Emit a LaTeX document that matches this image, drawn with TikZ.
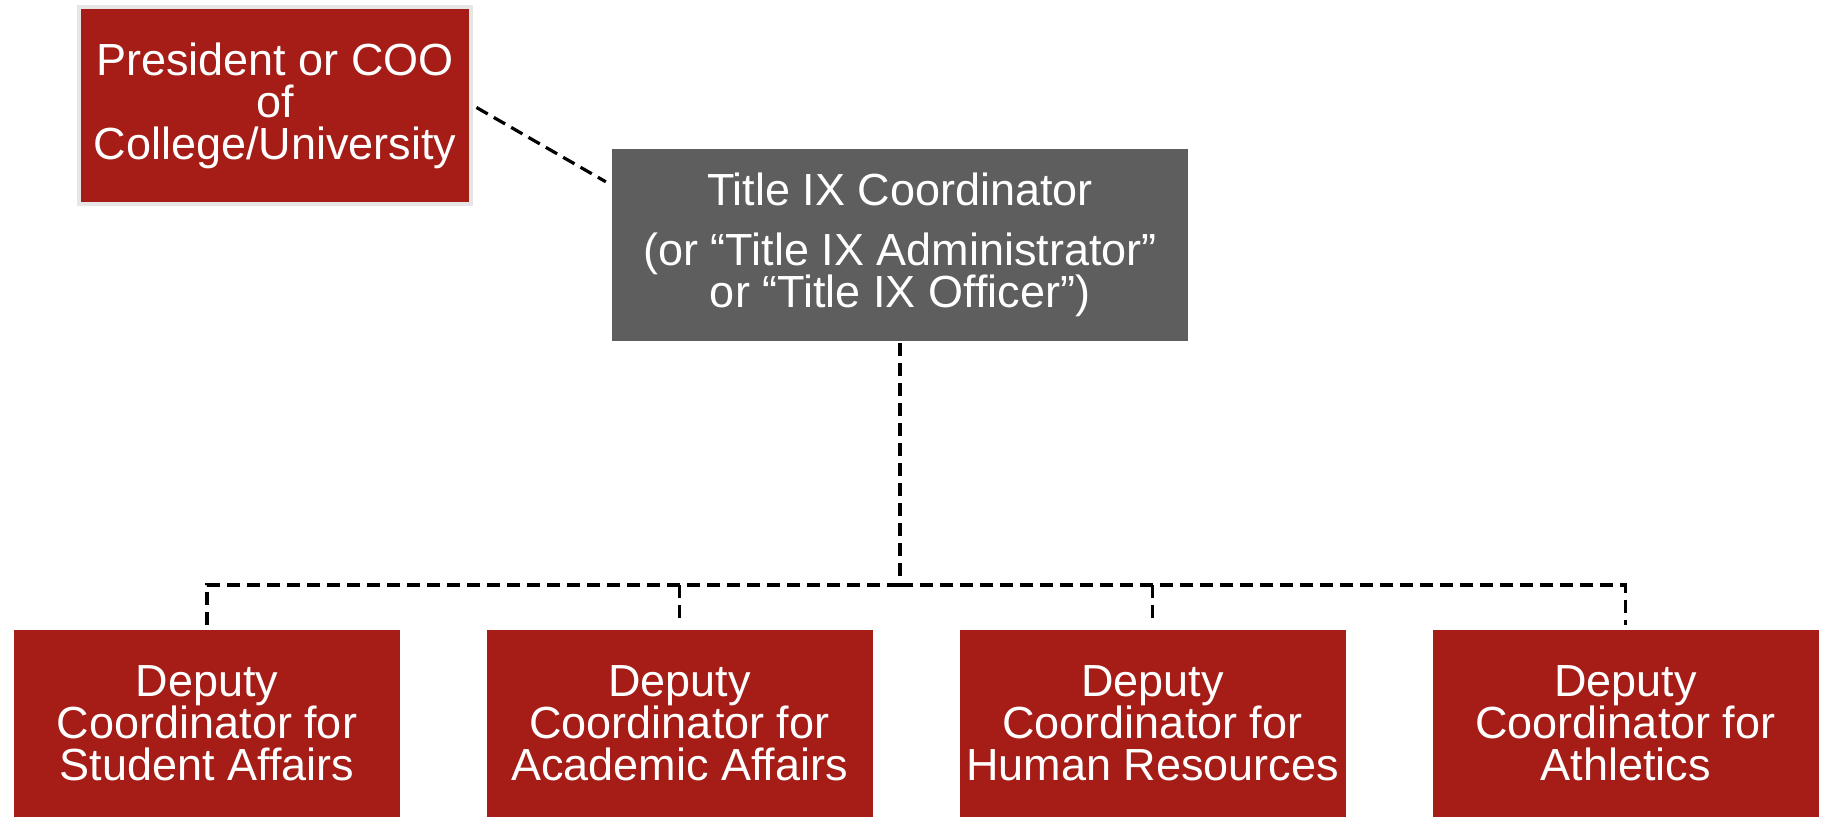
\documentclass[tikz,border=0pt]{standalone}
\usepackage{fontspec}
\setmainfont{Liberation Sans}
\definecolor{boxred}{HTML}{A51D16}
\definecolor{boxgray}{HTML}{5E5E5E}
\definecolor{rimgray}{HTML}{E6E6E6}
\begin{document}
\begin{tikzpicture}[x=1pt,y=1pt,
  box/.style={inner sep=0pt, align=center, text=white,
    font=\fontsize{45}{42}\selectfont},
  redbox/.style={box, fill=boxred, minimum width=386pt, minimum height=187pt},
  link/.style={draw=black, line width=3.2pt, dash pattern=on 13pt off 7pt}]
\useasboundingbox (0,0) rectangle (1822,817);
\node[box, fill=boxred, draw=rimgray, line width=4pt,
  minimum width=392pt, minimum height=197pt] (pres) at (275,711.5)
  {President or COO\\of\\College/University};
\node[box, fill=boxgray, minimum width=576pt, minimum height=192pt] (title) at (900,572)
  {Title IX Coordinator\\[18pt](or “Title IX Administrator”\\or “Title IX Officer”)};
\node[redbox] (d1) at (207,93.5) {Deputy\\Coordinator for\\Student Affairs};
\node[redbox] (d2) at (679.5,93.5) {Deputy\\Coordinator for\\Academic Affairs};
\node[redbox] (d3) at (1152.5,93.5) {Deputy\\Coordinator for\\Human Resources};
\node[redbox] (d4) at (1625.5,93.5) {Deputy\\Coordinator for\\Athletics};
\coordinate (j) at (900,232);
\draw[link, shorten <=4pt] (pres.east) -- ([xshift=-6pt,yshift=-33pt]title.north west);
\draw[link, shorten <=2pt] (title.south) -- (j);
\draw[link, shorten >=5pt] (j) -- (d1.north |- j) -- (d1.north);
\draw[link, shorten >=5pt] (j) -- (d4.north |- j) -- (d4.north);
\draw[link, shorten >=5pt] (d2.north |- j) -- (d2.north);
\draw[link, shorten >=5pt] (d3.north |- j) -- (d3.north);
\end{tikzpicture}
\end{document}
